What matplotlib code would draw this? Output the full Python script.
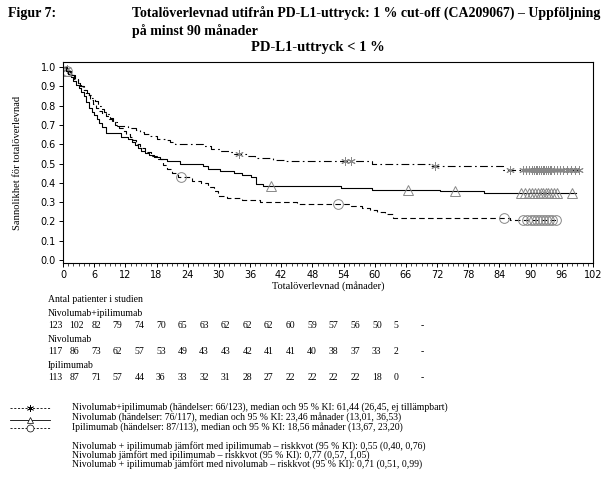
import matplotlib.pyplot as plt
import numpy as np
from matplotlib.lines import Line2D

# Kaplan-Meier steps (months, survival)
ni_t = [0, 0.6, 1.2, 1.8, 2.3, 2.8, 3.3, 3.8, 4.3, 5.0, 5.6, 6.2, 6.8, 7.3, 7.9, 8.5, 9.1, 9.7,
        10.3, 12.5, 14.0, 14.8, 15.6, 16.8, 18.0, 19.6, 20.6, 21.6, 27.0, 28.5, 30.2, 32.0, 33.0,
        35.5, 37.0, 40.5, 43.0, 59.5, 70.8, 84.6]
ni_s = [1.0, 0.99, 0.975, 0.96, 0.94, 0.92, 0.90, 0.88, 0.865, 0.855, 0.84, 0.825, 0.80, 0.785,
        0.77, 0.755, 0.735, 0.715, 0.695, 0.685, 0.675, 0.665, 0.655, 0.645, 0.63, 0.62, 0.61,
        0.603, 0.59, 0.575, 0.565, 0.558, 0.55, 0.54, 0.53, 0.52, 0.513, 0.50, 0.488, 0.468]
ni_end = 99.4
ni_cens = [0.8, 33.8, 54.3, 55.5, 71.5, 86.0, 88.6, 89.2, 89.7, 90.2, 90.6, 91.0, 91.3, 91.6,
           92.0, 92.3, 92.6, 93.0, 93.3, 93.7, 94.0, 94.5, 95.0, 95.6, 96.3, 97.0, 97.8, 98.6, 99.3]

n_t = [0, 0.5, 1.0, 1.5, 2.0, 2.5, 3.0, 3.5, 4.0, 4.5, 5.0, 5.5, 6.0, 6.5, 7.0, 7.5, 8.2, 11.2,
       12.6, 13.2, 13.8, 14.4, 15.0, 15.8, 16.6, 17.6, 18.6, 20.0, 22.6, 27.0, 28.0, 30.2, 33.0,
       34.5, 36.2, 37.2, 38.5, 53.5, 59.5, 72.5, 81.0]
n_s = [1.0, 0.98, 0.965, 0.95, 0.93, 0.91, 0.89, 0.87, 0.85, 0.82, 0.79, 0.77, 0.75, 0.73, 0.71,
       0.69, 0.66, 0.64, 0.625, 0.61, 0.595, 0.58, 0.565, 0.555, 0.545, 0.535, 0.525, 0.512, 0.50,
       0.485, 0.472, 0.46, 0.45, 0.44, 0.43, 0.395, 0.383, 0.374, 0.362, 0.357, 0.348]
n_end = 98.8
n_cens = [0.5, 40.0, 66.3, 75.5, 88.2, 89.0, 89.7, 90.3, 90.9, 91.4, 91.9, 92.4, 92.9, 93.4,
          93.9, 94.4, 95.0, 98.0]

i_t = [0, 0.8, 1.5, 2.2, 2.8, 3.4, 4.0, 4.6, 5.2, 5.8, 6.4, 7.0, 7.6, 8.2, 8.8, 9.4, 10.0, 10.8,
       11.6, 12.2, 12.8, 13.4, 14.0, 14.8, 15.8, 17.0, 18.2, 19.2, 20.0, 21.0, 22.2, 24.8, 26.5,
       28.0, 29.0, 29.9, 31.5, 34.5, 38.0, 45.0, 55.5, 57.5, 59.0, 60.5, 62.0, 63.5, 86.0]
i_s = [1.0, 0.98, 0.96, 0.94, 0.92, 0.90, 0.88, 0.855, 0.83, 0.81, 0.79, 0.775, 0.76, 0.745,
       0.73, 0.715, 0.70, 0.685, 0.67, 0.655, 0.64, 0.62, 0.60, 0.58, 0.56, 0.54, 0.525, 0.49,
       0.47, 0.45, 0.43, 0.41, 0.40, 0.38, 0.36, 0.33, 0.32, 0.31, 0.30, 0.29, 0.28, 0.27, 0.26,
       0.25, 0.24, 0.215, 0.207]
i_end = 95.2
i_cens = [0.8, 22.8, 52.9, 84.8, 88.6, 89.3, 90.0, 90.6, 91.2, 91.8, 92.4, 93.0, 93.6, 94.2, 94.9]

months = list(range(0, 103, 6))
risk_names = ['Nivolumab+ipilimumab', 'Nivolumab', 'Ipilimumab']
risk_ni = ['123', '102', '82', '79', '74', '70', '65', '63', '62', '62', '62', '60', '59', '57', '56', '50', '5', '-']
risk_n = ['117', '86', '73', '62', '57', '53', '49', '43', '43', '42', '41', '41', '40', '38', '37', '33', '2', '-']
risk_i = ['113', '87', '71', '57', '44', '36', '33', '32', '31', '28', '27', '22', '22', '22', '22', '18', '0', '-']

legend_txt = ['Nivolumab+ipilimumab (händelser: 66/123), median och 95 % KI: 61,44 (26,45, ej tillämpbart)',
              'Nivolumab (händelser: 76/117), median och 95 % KI: 23,46 månader (13,01, 36,53)',
              'Ipilimumab (händelser: 87/113), median och 95 % KI: 18,56 månader (13,67, 23,20)']
hr_txt = ['Nivolumab + ipilimumab jämfört med ipilimumab – riskkvot (95 % KI): 0,55 (0,40, 0,76)',
          'Nivolumab jämfört med ipilimumab – riskkvot (95 % KI): 0,77 (0,57, 1,05)',
          'Nivolumab + ipilimumab jämfört med nivolumab – riskkvot (95 % KI): 0,71 (0,51, 0,99)']

serif = 'Liberation Serif'
W, H = 616, 478
fig = plt.figure(figsize=(W / 100, H / 100), dpi=100)
ax = fig.add_axes([63 / W, 1 - 263 / H, 530 / W, 201 / H])

def fx(px):
    return px / W

def fy(py):
    return 1 - py / H

arms = [
    (ni_t, ni_s, ni_end, ni_cens, (0, (7, 3, 1.5, 3)), (6, 2, 0), 6),
    (n_t, n_s, n_end, n_cens, '-', '^', 7),
    (i_t, i_s, i_end, i_cens, (0, (5, 3)), 'o', 7),
]
for t, s, end, cens, ls, mk, ms in arms:
    tt = np.array(t + [end])
    ss = np.array(s + [s[-1]])
    ax.step(tt, ss, where='post', color='black', lw=0.8, linestyle=ls)
    idx = np.searchsorted(np.array(t), np.array(cens), side='right') - 1
    ax.plot(cens, np.array(s)[idx], linestyle='none', marker=mk, ms=ms,
            mfc='none', mec='#888888', mew=0.7)

ax.set_xlim(0, 102)
ax.set_ylim(-0.016, 1.027)
ax.set_xticks(months)
ax.set_xticks(range(0, 103), minor=True)
ax.set_yticks(np.arange(0, 1.01, 0.1))
ax.set_yticklabels([f'{v:.1f}' for v in np.arange(0, 1.01, 0.1)])
ax.tick_params(direction='out', labelsize=7, length=3, width=0.7, pad=2)
ax.tick_params(which='minor', length=1.8, width=0.5)
for sp in ax.spines.values():
    sp.set_linewidth(0.8)
ax.set_xlabel('Totalöverlevnad (månader)', family=serif, fontsize=7.5, labelpad=1)
ax.set_ylabel('Sannolikhet för totalöverlevnad', family=serif, fontsize=7.6)
ax.yaxis.set_label_coords((22 - 63) / 530, 0.5)

fig.text(fx(8), fy(14), 'Figur 7:', family=serif, weight='bold', fontsize=10, va='center')
fig.text(fx(132), fy(14), 'Totalöverlevnad utifrån PD-L1-uttryck: 1 % cut-off (CA209067) – Uppföljning',
         family=serif, weight='bold', fontsize=10, va='center')
fig.text(fx(132), fy(31), 'på minst 90 månader', family=serif, weight='bold', fontsize=10, va='center')
fig.text(fx(318), fy(48), 'PD-L1-uttryck < 1 %', family=serif, weight='bold', fontsize=10.5,
         va='center', ha='center')

# risk table
fig.text(fx(48), fy(300), 'Antal patienter i studien', family=serif, fontsize=7, va='center')
for k, (name, row) in enumerate(zip(risk_names, [risk_ni, risk_n, risk_i])):
    y0 = 313 + 26 * k
    fig.text(fx(48), fy(y0), name, family=serif, fontsize=7, va='center')
    for j, val in enumerate(row):
        fig.text(fx(48 + 21.6 * j + (5 if val == '-' else 0)), fy(y0 + 13), val,
                 family=serif, fontsize=7, va='center')

# legend
styles = [((0, (2.5, 2)), (6, 2, 0), 5), ('-', '^', 5), ((0, (2.5, 2)), 'o', 5)]
for k, (txt, (ls, mk, ms)) in enumerate(zip(legend_txt, styles)):
    y0 = 407.5 + 10 * k
    ly = y0 + (2 if k == 1 else 0)
    fig.add_artist(Line2D([fx(10), fx(50)], [fy(ly), fy(ly)], color='black', lw=0.6, linestyle=ls))
    fig.add_artist(Line2D([fx(30)], [fy(ly)], marker=mk, ms=ms, mfc='white', mec='black', mew=0.5))
    fig.text(fx(72), fy(y0), txt, family=serif, fontsize=7, va='center')
for k, txt in enumerate(hr_txt):
    fig.text(fx(72), fy(446 + 9.2 * k), txt, family=serif, fontsize=7, va='center')

fig.savefig('out.png', dpi=100)
